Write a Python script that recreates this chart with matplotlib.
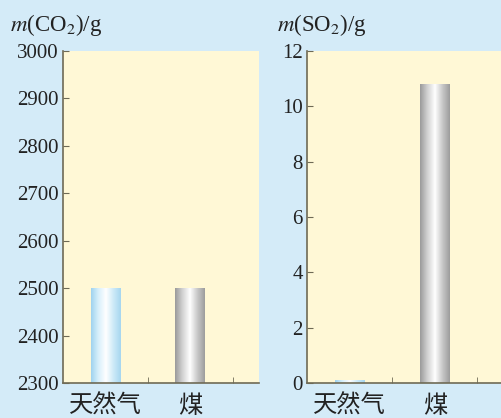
import numpy as np
import matplotlib
matplotlib.use("Agg")
import matplotlib.pyplot as plt
from matplotlib.colors import LinearSegmentedColormap

plt.rcParams['mathtext.fontset'] = 'stix'

categories = ['天然气', '煤']
co2_values = [2500, 2500]
so2_values = [0.1, 10.8]
co2_ticks = [2300, 2400, 2500, 2600, 2700, 2800, 2900, 3000]
so2_ticks = [0, 2, 4, 6, 8, 10, 12]

BG = '#d4ebf8'
AXBG = '#fff8d6'
SPINE = '#6e6a55'
blue_cmap = LinearSegmentedColormap.from_list('b', ['#9fd3ef', '#d8f0fb', '#ffffff', '#cdeaf8', '#a6d6ef'])
gray_cmap = LinearSegmentedColormap.from_list('g', ['#9a9a9a', '#d2d2d2', '#ffffff', '#c8c8c8', '#9c9c9c'])

fig = plt.figure(figsize=(5.02, 4.18), dpi=100, facecolor=BG)
W, H = 502, 418
ax1 = fig.add_axes([63 / W, 1 - 383 / H, (259 - 63) / W, 332 / H])
ax2 = fig.add_axes([307 / W, 1 - 383 / H, (502 - 307) / W, 332 / H])

def draw(ax, vals, ylim, yticks, xlim_right):
    ax.set_facecolor(AXBG)
    x = np.arange(len(categories))
    base = ylim[0]
    bars = ax.bar(x, [v - base for v in vals], width=0.35, bottom=base,
                  color='none', edgecolor='none', zorder=2)
    grad = np.linspace(0, 1, 256).reshape(1, -1)
    for b, cm in zip(bars, [blue_cmap, gray_cmap]):
        x0, y0 = b.get_x(), b.get_y()
        w, h = b.get_width(), b.get_height()
        im = ax.imshow(grad, cmap=cm, aspect='auto', extent=[x0, x0 + w, y0, y0 + h],
                       zorder=2, interpolation='bilinear')
        im.set_clip_path(b)
    ax.set_yticks(yticks)
    ax.set_yticklabels([str(t) for t in yticks], fontfamily='Liberation Serif', fontsize=15)
    ax.set_xticks(x)
    ax.set_xticklabels(categories, fontfamily='Noto Sans CJK SC', fontsize=17.5)
    ax.set_xticks([0.5, 1.5], minor=True)
    ax.tick_params(axis='x', which='major', length=0, pad=7, colors='#222222')
    ax.tick_params(axis='x', which='minor', length=4, direction='in', color=SPINE)
    ax.tick_params(axis='y', length=4, direction='in', color=SPINE, pad=3, labelcolor='#222222')
    for s in ['top', 'right']:
        ax.spines[s].set_visible(False)
    for s in ['left', 'bottom']:
        ax.spines[s].set_color(SPINE)
        ax.spines[s].set_linewidth(1.2)
    ax.set_xlim(-0.5, xlim_right)
    ax.set_ylim(*ylim)

draw(ax1, co2_values, (2300, 3000), co2_ticks, 1.81)
draw(ax2, so2_values, (0, 12), so2_ticks, 1.79)

fig.text(10 / W, 1 - 31 / H, r'$m$(CO$_2$)/g', fontfamily='Liberation Serif', fontsize=16.5,
         color='#222222', ha='left', va='baseline')
fig.text(277 / W, 1 - 31 / H, r'$m$(SO$_2$)/g', fontfamily='Liberation Serif', fontsize=16.5,
         color='#222222', ha='left', va='baseline')

fig.savefig('out.png', dpi=100, facecolor=BG)
